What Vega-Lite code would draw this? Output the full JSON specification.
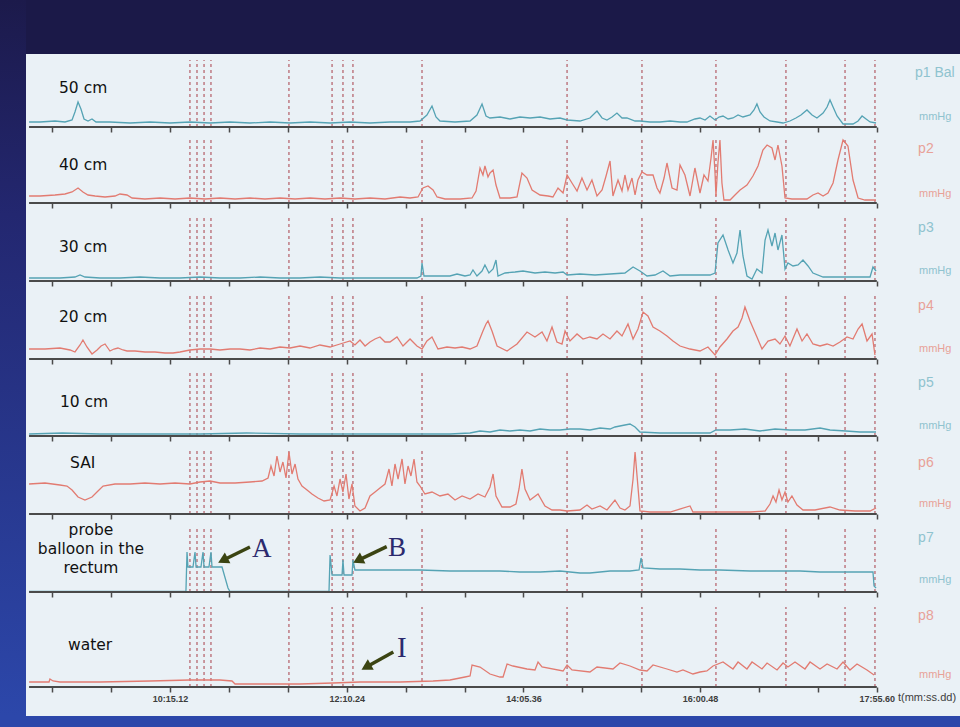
{
"$schema": "https://vega.github.io/schema/vega-lite/v6.json",
"background": "#2c47aa",
"padding": {"left": 0, "top": 0, "right": 0, "bottom": 11},
"spacing": 0,
"bounds": "flush",
"config": {"view": {"stroke": null, "fill": "#eaf1f6"}, "concat": {"spacing": 0}},
"resolve": {"scale": {"x": "independent", "y": "independent"}},
"datasets": {
"events": [{"t":628.1},{"t":632.7},{"t":637.3},{"t":641.8},{"t":692.6},{"t":720.7},{"t":727.8},{"t":734.3},{"t":779.3},{"t":873.8},{"t":922.6},{"t":970.8},{"t":1016.4},{"t":1054.9},{"t":1074.4}],
"p1": [{"t":523.3,"v":5},{"t":530.4,"v":5},{"t":540.2,"v":6},{"t":546.7,"v":5},{"t":551.3,"v":7},{"t":553.2,"v":15},{"t":555.2,"v":25},{"t":557.1,"v":18},{"t":559.1,"v":8},{"t":561.7,"v":6},{"t":564.3,"v":8},{"t":566.9,"v":5},{"t":576.0,"v":5},{"t":589.1,"v":4},{"t":602.1,"v":5},{"t":615.1,"v":4},{"t":628.1,"v":5},{"t":641.2,"v":4},{"t":654.2,"v":5},{"t":667.2,"v":4},{"t":680.3,"v":5},{"t":693.3,"v":4},{"t":706.3,"v":5},{"t":719.4,"v":4},{"t":732.4,"v":5},{"t":745.4,"v":4},{"t":758.4,"v":5},{"t":771.5,"v":5},{"t":778.0,"v":6},{"t":782.5,"v":12},{"t":785.8,"v":21},{"t":788.4,"v":10},{"t":791.0,"v":6},{"t":800.8,"v":5},{"t":810.6,"v":6},{"t":815.1,"v":12},{"t":818.4,"v":23},{"t":821.0,"v":11},{"t":823.6,"v":9},{"t":830.1,"v":10},{"t":836.6,"v":8},{"t":843.1,"v":10},{"t":849.7,"v":9},{"t":856.2,"v":10},{"t":862.7,"v":8},{"t":869.2,"v":9},{"t":873.8,"v":7},{"t":882.2,"v":6},{"t":888.7,"v":9},{"t":893.3,"v":16},{"t":896.6,"v":9},{"t":899.8,"v":7},{"t":903.1,"v":10},{"t":906.3,"v":14},{"t":909.6,"v":9},{"t":912.8,"v":9},{"t":918.1,"v":6},{"t":921.3,"v":6},{"t":927.8,"v":5},{"t":934.3,"v":5},{"t":940.9,"v":6},{"t":947.4,"v":5},{"t":951.9,"v":5},{"t":957.1,"v":8},{"t":960.4,"v":9},{"t":963.7,"v":7},{"t":966.9,"v":11},{"t":970.2,"v":7},{"t":972.8,"v":10},{"t":975.4,"v":11},{"t":978.7,"v":8},{"t":981.9,"v":9},{"t":985.2,"v":12},{"t":988.4,"v":10},{"t":993.0,"v":12},{"t":995.6,"v":17},{"t":997.5,"v":23},{"t":999.5,"v":15},{"t":1002.1,"v":10},{"t":1006.0,"v":6},{"t":1010.6,"v":5},{"t":1014.5,"v":4},{"t":1019.0,"v":6},{"t":1022.9,"v":9},{"t":1026.2,"v":12},{"t":1030.1,"v":17},{"t":1033.4,"v":12},{"t":1036.6,"v":9},{"t":1040.6,"v":14},{"t":1043.2,"v":20},{"t":1045.1,"v":27},{"t":1047.1,"v":20},{"t":1049.7,"v":11},{"t":1053.6,"v":3},{"t":1060.1,"v":3},{"t":1063.4,"v":6},{"t":1066.0,"v":11},{"t":1068.6,"v":8},{"t":1071.2,"v":5},{"t":1075.1,"v":4}],
"p2": [{"t":523.3,"v":7},{"t":530.4,"v":7},{"t":540.2,"v":8},{"t":546.7,"v":9},{"t":551.3,"v":11},{"t":555.2,"v":15},{"t":558.4,"v":11},{"t":561.7,"v":8},{"t":566.3,"v":7},{"t":572.8,"v":6},{"t":579.3,"v":7},{"t":582.5,"v":9},{"t":587.1,"v":8},{"t":590.4,"v":5},{"t":598.8,"v":4},{"t":608.6,"v":5},{"t":618.4,"v":4},{"t":628.1,"v":5},{"t":637.9,"v":4},{"t":647.7,"v":5},{"t":657.5,"v":4},{"t":667.2,"v":5},{"t":677.0,"v":4},{"t":686.8,"v":5},{"t":696.6,"v":4},{"t":706.3,"v":5},{"t":716.1,"v":4},{"t":725.9,"v":5},{"t":735.6,"v":4},{"t":745.4,"v":5},{"t":755.2,"v":4},{"t":765.0,"v":6},{"t":771.5,"v":5},{"t":776.7,"v":6},{"t":779.9,"v":15},{"t":783.2,"v":17},{"t":786.5,"v":13},{"t":789.1,"v":6},{"t":794.3,"v":4},{"t":804.1,"v":4},{"t":811.9,"v":5},{"t":814.5,"v":12},{"t":817.1,"v":35},{"t":819.0,"v":28},{"t":820.3,"v":37},{"t":822.3,"v":26},{"t":823.6,"v":30},{"t":825.6,"v":33},{"t":827.5,"v":18},{"t":830.1,"v":5},{"t":836.6,"v":5},{"t":841.2,"v":6},{"t":844.4,"v":30},{"t":847.7,"v":25},{"t":851.0,"v":13},{"t":856.2,"v":8},{"t":861.4,"v":7},{"t":864.6,"v":6},{"t":867.9,"v":15},{"t":871.2,"v":10},{"t":873.8,"v":28},{"t":877.0,"v":20},{"t":880.3,"v":12},{"t":883.5,"v":25},{"t":886.8,"v":13},{"t":890.0,"v":23},{"t":893.3,"v":7},{"t":896.6,"v":13},{"t":899.2,"v":27},{"t":901.8,"v":42},{"t":903.7,"v":7},{"t":907.0,"v":23},{"t":909.6,"v":12},{"t":911.5,"v":28},{"t":913.5,"v":13},{"t":916.1,"v":25},{"t":918.1,"v":8},{"t":920.0,"v":23},{"t":922.6,"v":31},{"t":925.9,"v":28},{"t":929.8,"v":28},{"t":932.4,"v":15},{"t":934.3,"v":10},{"t":937.0,"v":25},{"t":938.9,"v":40},{"t":942.2,"v":15},{"t":945.4,"v":13},{"t":947.4,"v":38},{"t":950.6,"v":28},{"t":953.9,"v":7},{"t":957.1,"v":35},{"t":960.4,"v":10},{"t":963.0,"v":28},{"t":965.6,"v":22},{"t":967.6,"v":45},{"t":968.9,"v":63},{"t":970.2,"v":30},{"t":970.8,"v":7},{"t":972.1,"v":40},{"t":973.4,"v":63},{"t":974.7,"v":20},{"t":976.0,"v":3},{"t":980.0,"v":3},{"t":983.2,"v":8},{"t":986.5,"v":13},{"t":991.0,"v":18},{"t":994.9,"v":27},{"t":998.2,"v":37},{"t":1001.4,"v":53},{"t":1004.1,"v":58},{"t":1007.3,"v":55},{"t":1009.3,"v":43},{"t":1011.2,"v":58},{"t":1013.8,"v":37},{"t":1015.8,"v":5},{"t":1020.3,"v":4},{"t":1025.6,"v":4},{"t":1030.1,"v":4},{"t":1034.0,"v":8},{"t":1037.3,"v":10},{"t":1040.6,"v":7},{"t":1043.8,"v":10},{"t":1047.1,"v":20},{"t":1050.3,"v":43},{"t":1053.6,"v":63},{"t":1056.8,"v":57},{"t":1060.1,"v":23},{"t":1063.4,"v":5},{"t":1067.9,"v":3},{"t":1075.1,"v":3}],
"p3": [{"t":523.3,"v":3},{"t":533.7,"v":3},{"t":543.4,"v":3},{"t":553.2,"v":4},{"t":556.5,"v":6},{"t":559.7,"v":4},{"t":569.5,"v":3},{"t":582.5,"v":3},{"t":595.6,"v":4},{"t":608.6,"v":3},{"t":621.6,"v":3},{"t":634.7,"v":4},{"t":647.7,"v":3},{"t":660.7,"v":3},{"t":673.8,"v":4},{"t":686.8,"v":3},{"t":699.8,"v":3},{"t":712.8,"v":4},{"t":725.9,"v":3},{"t":738.9,"v":3},{"t":751.9,"v":3},{"t":765.0,"v":3},{"t":776.0,"v":3},{"t":778.6,"v":5},{"t":779.3,"v":18},{"t":780.6,"v":5},{"t":787.8,"v":5},{"t":797.5,"v":5},{"t":802.1,"v":7},{"t":807.3,"v":5},{"t":810.6,"v":6},{"t":812.5,"v":11},{"t":815.1,"v":5},{"t":818.4,"v":10},{"t":820.3,"v":16},{"t":822.9,"v":8},{"t":825.6,"v":12},{"t":827.5,"v":21},{"t":828.8,"v":5},{"t":833.4,"v":8},{"t":839.9,"v":9},{"t":845.1,"v":10},{"t":852.9,"v":8},{"t":859.4,"v":9},{"t":866.0,"v":8},{"t":871.2,"v":9},{"t":873.8,"v":6},{"t":882.2,"v":7},{"t":892.0,"v":6},{"t":901.8,"v":7},{"t":911.5,"v":8},{"t":916.8,"v":14},{"t":921.3,"v":10},{"t":925.9,"v":5},{"t":931.1,"v":6},{"t":936.3,"v":10},{"t":940.9,"v":5},{"t":947.4,"v":6},{"t":957.1,"v":6},{"t":966.9,"v":6},{"t":970.2,"v":8},{"t":972.1,"v":38},{"t":975.4,"v":46},{"t":978.7,"v":31},{"t":981.9,"v":18},{"t":984.5,"v":28},{"t":986.5,"v":51},{"t":988.4,"v":25},{"t":991.0,"v":5},{"t":994.3,"v":2},{"t":997.5,"v":12},{"t":1000.8,"v":8},{"t":1002.8,"v":41},{"t":1004.7,"v":51},{"t":1007.3,"v":35},{"t":1009.3,"v":48},{"t":1011.2,"v":31},{"t":1013.8,"v":46},{"t":1015.8,"v":12},{"t":1017.7,"v":18},{"t":1021.0,"v":15},{"t":1024.3,"v":16},{"t":1027.5,"v":21},{"t":1030.8,"v":15},{"t":1034.0,"v":8},{"t":1040.6,"v":4},{"t":1051.6,"v":4},{"t":1061.4,"v":4},{"t":1071.2,"v":4},{"t":1073.1,"v":14},{"t":1075.1,"v":10}],
"p4": [{"t":523.3,"v":10},{"t":533.7,"v":10},{"t":543.4,"v":11},{"t":550.0,"v":9},{"t":553.2,"v":7},{"t":556.5,"v":14},{"t":558.4,"v":19},{"t":561.0,"v":12},{"t":564.3,"v":5},{"t":567.6,"v":9},{"t":570.2,"v":13},{"t":572.8,"v":15},{"t":576.0,"v":8},{"t":578.6,"v":10},{"t":581.2,"v":11},{"t":584.5,"v":9},{"t":587.1,"v":8},{"t":592.3,"v":8},{"t":598.8,"v":7},{"t":605.3,"v":7},{"t":611.9,"v":6},{"t":617.1,"v":6},{"t":621.6,"v":7},{"t":628.1,"v":9},{"t":634.7,"v":10},{"t":641.2,"v":10},{"t":647.7,"v":9},{"t":654.2,"v":10},{"t":660.7,"v":10},{"t":667.2,"v":9},{"t":673.8,"v":11},{"t":680.3,"v":10},{"t":686.8,"v":12},{"t":693.3,"v":11},{"t":699.8,"v":13},{"t":706.3,"v":11},{"t":712.8,"v":14},{"t":719.4,"v":12},{"t":725.9,"v":15},{"t":732.4,"v":18},{"t":735.6,"v":14},{"t":738.9,"v":19},{"t":742.2,"v":13},{"t":745.4,"v":17},{"t":748.7,"v":20},{"t":751.9,"v":22},{"t":755.2,"v":17},{"t":758.4,"v":17},{"t":763.0,"v":22},{"t":766.9,"v":13},{"t":771.5,"v":20},{"t":776.0,"v":13},{"t":779.3,"v":10},{"t":782.5,"v":18},{"t":785.8,"v":22},{"t":789.7,"v":10},{"t":795.6,"v":12},{"t":800.8,"v":11},{"t":805.4,"v":12},{"t":810.6,"v":10},{"t":815.1,"v":13},{"t":819.0,"v":28},{"t":821.0,"v":35},{"t":822.3,"v":38},{"t":824.9,"v":28},{"t":828.2,"v":13},{"t":834.7,"v":8},{"t":841.2,"v":15},{"t":847.7,"v":27},{"t":852.9,"v":22},{"t":857.5,"v":27},{"t":860.7,"v":18},{"t":864.0,"v":32},{"t":867.2,"v":17},{"t":870.5,"v":15},{"t":872.5,"v":28},{"t":875.7,"v":18},{"t":880.3,"v":25},{"t":884.2,"v":20},{"t":888.7,"v":22},{"t":893.3,"v":20},{"t":897.2,"v":25},{"t":901.8,"v":20},{"t":906.3,"v":28},{"t":909.6,"v":23},{"t":913.5,"v":35},{"t":916.8,"v":20},{"t":920.0,"v":30},{"t":923.3,"v":47},{"t":926.5,"v":43},{"t":929.8,"v":32},{"t":934.3,"v":28},{"t":938.9,"v":23},{"t":942.8,"v":18},{"t":947.4,"v":13},{"t":953.9,"v":10},{"t":960.4,"v":8},{"t":965.6,"v":12},{"t":970.2,"v":4},{"t":973.4,"v":12},{"t":978.0,"v":20},{"t":981.9,"v":28},{"t":985.2,"v":32},{"t":987.8,"v":41},{"t":989.7,"v":52},{"t":993.0,"v":38},{"t":997.5,"v":22},{"t":1000.8,"v":10},{"t":1004.7,"v":18},{"t":1009.3,"v":20},{"t":1012.5,"v":15},{"t":1015.8,"v":23},{"t":1019.0,"v":13},{"t":1023.6,"v":30},{"t":1026.9,"v":18},{"t":1030.1,"v":25},{"t":1034.0,"v":15},{"t":1038.6,"v":13},{"t":1043.2,"v":15},{"t":1047.1,"v":13},{"t":1051.6,"v":17},{"t":1056.2,"v":22},{"t":1060.1,"v":20},{"t":1063.4,"v":30},{"t":1066.0,"v":35},{"t":1069.2,"v":18},{"t":1072.5,"v":25},{"t":1074.4,"v":4}],
"p5": [{"t":523.3,"v":2},{"t":545.0,"v":3},{"t":569.5,"v":2},{"t":600.0,"v":2},{"t":634.7,"v":2},{"t":665.0,"v":3},{"t":699.8,"v":2},{"t":730.0,"v":2},{"t":765.0,"v":2},{"t":797.5,"v":2},{"t":810.6,"v":3},{"t":817.1,"v":5},{"t":823.6,"v":4},{"t":830.1,"v":6},{"t":836.6,"v":5},{"t":843.1,"v":6},{"t":849.7,"v":5},{"t":856.2,"v":7},{"t":862.7,"v":6},{"t":869.2,"v":6},{"t":875.7,"v":7},{"t":882.2,"v":7},{"t":888.7,"v":6},{"t":895.3,"v":8},{"t":901.8,"v":7},{"t":905.0,"v":9},{"t":911.5,"v":11},{"t":914.8,"v":12},{"t":918.1,"v":9},{"t":921.3,"v":4},{"t":934.3,"v":3},{"t":953.9,"v":3},{"t":966.9,"v":3},{"t":970.8,"v":6},{"t":980.0,"v":6},{"t":989.7,"v":7},{"t":999.5,"v":5},{"t":1009.3,"v":7},{"t":1019.0,"v":6},{"t":1028.8,"v":6},{"t":1038.6,"v":8},{"t":1045.1,"v":6},{"t":1055.5,"v":5},{"t":1064.6,"v":4},{"t":1075.1,"v":4}],
"p6": [{"t":523.3,"v":30},{"t":533.7,"v":31},{"t":543.4,"v":29},{"t":548.0,"v":28},{"t":551.3,"v":24},{"t":555.2,"v":17},{"t":559.7,"v":14},{"t":564.3,"v":17},{"t":568.2,"v":23},{"t":571.5,"v":28},{"t":579.3,"v":30},{"t":589.1,"v":30},{"t":598.8,"v":31},{"t":608.6,"v":30},{"t":618.4,"v":31},{"t":628.1,"v":30},{"t":634.7,"v":32},{"t":641.2,"v":33},{"t":647.7,"v":31},{"t":657.5,"v":31},{"t":667.2,"v":32},{"t":675.1,"v":33},{"t":679.0,"v":36},{"t":680.9,"v":48},{"t":682.9,"v":38},{"t":684.8,"v":58},{"t":686.8,"v":42},{"t":688.7,"v":52},{"t":690.7,"v":36},{"t":692.6,"v":62},{"t":694.6,"v":40},{"t":696.6,"v":50},{"t":698.5,"v":35},{"t":701.1,"v":28},{"t":704.4,"v":24},{"t":707.6,"v":20},{"t":711.5,"v":16},{"t":715.5,"v":13},{"t":719.4,"v":14},{"t":722.0,"v":28},{"t":723.9,"v":18},{"t":725.9,"v":35},{"t":727.8,"v":22},{"t":729.8,"v":40},{"t":731.7,"v":15},{"t":733.7,"v":30},{"t":735.6,"v":8},{"t":738.9,"v":3},{"t":742.2,"v":6},{"t":745.4,"v":18},{"t":748.7,"v":22},{"t":751.9,"v":26},{"t":755.2,"v":30},{"t":757.8,"v":45},{"t":759.7,"v":28},{"t":761.7,"v":50},{"t":763.7,"v":35},{"t":766.3,"v":55},{"t":768.2,"v":30},{"t":770.2,"v":48},{"t":772.1,"v":38},{"t":774.1,"v":55},{"t":776.0,"v":32},{"t":778.0,"v":28},{"t":781.2,"v":20},{"t":785.8,"v":22},{"t":791.0,"v":18},{"t":796.2,"v":20},{"t":800.8,"v":14},{"t":805.4,"v":18},{"t":810.6,"v":15},{"t":815.8,"v":20},{"t":820.3,"v":17},{"t":823.6,"v":27},{"t":825.6,"v":40},{"t":827.5,"v":18},{"t":831.4,"v":7},{"t":836.6,"v":7},{"t":840.5,"v":10},{"t":842.5,"v":25},{"t":844.4,"v":45},{"t":846.4,"v":25},{"t":849.7,"v":14},{"t":854.9,"v":20},{"t":859.4,"v":8},{"t":864.0,"v":4},{"t":869.2,"v":4},{"t":873.8,"v":3},{"t":882.2,"v":4},{"t":886.8,"v":9},{"t":890.0,"v":5},{"t":895.3,"v":8},{"t":899.8,"v":4},{"t":905.0,"v":14},{"t":908.3,"v":6},{"t":911.5,"v":4},{"t":914.8,"v":8},{"t":916.8,"v":35},{"t":918.1,"v":62},{"t":919.4,"v":38},{"t":921.3,"v":3},{"t":927.8,"v":2},{"t":940.9,"v":2},{"t":953.9,"v":8},{"t":955.8,"v":2},{"t":966.9,"v":2},{"t":980.0,"v":2},{"t":993.0,"v":2},{"t":1002.8,"v":3},{"t":1006.0,"v":10},{"t":1008.0,"v":18},{"t":1009.9,"v":12},{"t":1011.9,"v":24},{"t":1013.8,"v":14},{"t":1015.8,"v":22},{"t":1017.7,"v":12},{"t":1020.3,"v":18},{"t":1023.6,"v":9},{"t":1027.5,"v":4},{"t":1035.3,"v":4},{"t":1045.1,"v":7},{"t":1051.6,"v":4},{"t":1061.4,"v":3},{"t":1071.2,"v":3},{"t":1075.1,"v":6}],
"p7": [{"t":523.3,"v":0.5},{"t":569.5,"v":0.5},{"t":625.5,"v":0.5},{"t":626.2,"v":40},{"t":626.8,"v":25},{"t":630.1,"v":25},{"t":631.4,"v":40},{"t":632.1,"v":25},{"t":635.3,"v":25},{"t":636.6,"v":40},{"t":637.3,"v":25},{"t":640.5,"v":25},{"t":641.8,"v":40},{"t":642.5,"v":25},{"t":649.0,"v":25},{"t":652.9,"v":4},{"t":654.2,"v":0.5},{"t":718.7,"v":0.5},{"t":719.4,"v":37},{"t":720.7,"v":17},{"t":727.2,"v":17},{"t":727.8,"v":32},{"t":728.5,"v":17},{"t":733.7,"v":17},{"t":734.3,"v":32},{"t":735.6,"v":22},{"t":765.0,"v":22},{"t":778.0,"v":22},{"t":797.5,"v":21},{"t":817.1,"v":21},{"t":830.1,"v":21},{"t":843.1,"v":20},{"t":856.2,"v":20},{"t":869.2,"v":21},{"t":882.2,"v":19},{"t":888.7,"v":19},{"t":895.3,"v":20},{"t":901.8,"v":21},{"t":914.8,"v":21},{"t":920.7,"v":22},{"t":922.0,"v":34},{"t":923.3,"v":24},{"t":934.3,"v":23},{"t":947.4,"v":23},{"t":960.4,"v":22},{"t":973.4,"v":22},{"t":993.0,"v":21},{"t":1012.5,"v":21},{"t":1025.6,"v":21},{"t":1038.6,"v":20},{"t":1058.1,"v":20},{"t":1073.1,"v":20},{"t":1073.8,"v":6},{"t":1075.1,"v":4}],
"p8": [{"t":523.3,"v":5},{"t":533.7,"v":5},{"t":536.3,"v":5},{"t":536.9,"v":8},{"t":538.9,"v":6},{"t":543.4,"v":5},{"t":569.5,"v":5},{"t":602.1,"v":6},{"t":628.1,"v":7},{"t":647.7,"v":7},{"t":655.5,"v":6},{"t":657.5,"v":3},{"t":673.8,"v":3},{"t":699.8,"v":3},{"t":721.3,"v":4},{"t":738.9,"v":5},{"t":765.0,"v":5},{"t":786.5,"v":6},{"t":797.5,"v":7},{"t":807.3,"v":10},{"t":810.6,"v":11},{"t":811.9,"v":22},{"t":817.1,"v":20},{"t":823.6,"v":13},{"t":830.1,"v":10},{"t":832.1,"v":10},{"t":834.7,"v":23},{"t":838.6,"v":21},{"t":847.7,"v":18},{"t":852.9,"v":17},{"t":854.9,"v":25},{"t":857.5,"v":20},{"t":871.2,"v":16},{"t":873.8,"v":22},{"t":877.0,"v":17},{"t":888.7,"v":15},{"t":893.3,"v":20},{"t":903.7,"v":18},{"t":908.3,"v":24},{"t":914.8,"v":21},{"t":921.3,"v":17},{"t":925.9,"v":16},{"t":929.8,"v":22},{"t":938.9,"v":18},{"t":945.4,"v":15},{"t":949.3,"v":17},{"t":955.8,"v":13},{"t":960.4,"v":15},{"t":964.9,"v":16},{"t":968.9,"v":21},{"t":975.4,"v":25},{"t":981.9,"v":18},{"t":985.2,"v":25},{"t":991.0,"v":18},{"t":994.3,"v":25},{"t":1000.8,"v":18},{"t":1004.1,"v":24},{"t":1010.6,"v":17},{"t":1014.5,"v":24},{"t":1017.7,"v":20},{"t":1022.3,"v":25},{"t":1028.8,"v":18},{"t":1032.1,"v":25},{"t":1038.6,"v":18},{"t":1043.2,"v":23},{"t":1049.7,"v":18},{"t":1053.6,"v":25},{"t":1058.1,"v":17},{"t":1062.7,"v":23},{"t":1069.2,"v":17},{"t":1073.8,"v":12}],
"notes7": [{"label":"A","t":668.5,"v":35,"tt":667.2,"tv":45,"ht":650.6,"hv":32.5},{"label":"B","t":757.1,"v":36,"tt":756.3,"tv":45.3,"ht":738.6,"hv":32.4}],
"notes8": [{"label":"I","t":763.0,"v":29.7,"tt":760.6,"tv":35,"ht":743.9,"hv":20.8}]
},
"hconcat": [
{"width": 26, "height": 716, "view": {"fill": null, "stroke": null}, "data": {"values": [{}]}, "mark": {"type": "rect", "color": {"gradient": "linear", "x1": 0, "y1": 0, "x2": 0, "y2": 1, "stops": [{"offset": 0, "color": "#1c1a4b"}, {"offset": 0.3, "color": "#232770"}, {"offset": 1, "color": "#2c47aa"}]}}},
{"spacing": 0, "bounds": "flush", "resolve": {"scale": {"x": "independent", "y": "independent"}}, "vconcat": [
{"width": 934, "height": 54, "view": {"fill": "#1b1948", "stroke": null}, "data": {"values": [{}]}, "mark": {"type": "text", "text": ""}},
{"width": 934, "height": 79, "layer": [
 {"data": {"name": "events"}, "mark": {"type": "rule", "color": "#b35a64", "strokeDash": [3, 3], "strokeWidth": 1.4, "opacity": 0.85}, "encoding": {"x": {"field": "t", "type": "quantitative", "scale": {"domain": [521.3, 1129.8], "nice": false, "zero": false}, "axis": {"values": [538.373,576.746,615.12,653.493,691.867,730.24,768.613,806.987,845.36,883.733,922.107,960.48,998.853,1037.227,1075.6], "offset": -6, "labels": false, "domain": false, "ticks": true, "tickSize": 5, "tickWidth": 1.5, "tickColor": "#4a4a4a", "grid": false, "title": null}}, "y": {"datum": 0, "type": "quantitative", "scale": {"domain": [-6, 73], "nice": false, "zero": false}, "axis": null}, "y2": {"datum": 67}}},
 {"data": {"name": "p1"}, "mark": {"type": "line", "color": "#55a3b4", "strokeWidth": 1.3}, "encoding": {"x": {"field": "t", "type": "quantitative"}, "y": {"field": "v", "type": "quantitative", "axis": null}}},
 {"data": {"values": [{}]}, "mark": {"type": "rule", "color": "#4a4a4a", "strokeWidth": 2}, "encoding": {"x": {"datum": 523.3, "type": "quantitative"}, "x2": {"datum": 1075.6}, "y": {"datum": 0, "type": "quantitative", "axis": null}}},
 {"data": {"values": [{}]}, "mark": {"type": "text", "text": "50 cm", "font": "DejaVu Sans", "fontSize": 15.5, "align": "left", "baseline": "alphabetic", "color": "#111111"}, "encoding": {"x": {"datum": 542.8, "type": "quantitative"}, "y": {"datum": 34, "type": "quantitative", "axis": null}}},
 {"data": {"values": [{}]}, "mark": {"type": "text", "text": "p1 Bal", "font": "Liberation Sans", "fontSize": 14, "align": "left", "baseline": "alphabetic", "color": "#8fc3cf"}, "encoding": {"x": {"datum": 1100.5, "type": "quantitative"}, "y": {"datum": 50, "type": "quantitative", "axis": null}}},
 {"data": {"values": [{}]}, "mark": {"type": "text", "text": "mmHg", "font": "Liberation Sans", "fontSize": 11, "align": "left", "baseline": "alphabetic", "color": "#8fc3cf"}, "encoding": {"x": {"datum": 1103.1, "type": "quantitative"}, "y": {"datum": 7, "type": "quantitative", "axis": null}}}
]},
{"width": 934, "height": 76, "layer": [
 {"data": {"name": "events"}, "mark": {"type": "rule", "color": "#b35a64", "strokeDash": [3, 3], "strokeWidth": 1.4, "opacity": 0.85}, "encoding": {"x": {"field": "t", "type": "quantitative", "scale": {"domain": [521.3, 1129.8], "nice": false, "zero": false}, "axis": {"values": [538.373,576.746,615.12,653.493,691.867,730.24,768.613,806.987,845.36,883.733,922.107,960.48,998.853,1037.227,1075.6], "offset": -6, "labels": false, "domain": false, "ticks": true, "tickSize": 5, "tickWidth": 1.5, "tickColor": "#4a4a4a", "grid": false, "title": null}}, "y": {"datum": 0, "type": "quantitative", "scale": {"domain": [-6, 70], "nice": false, "zero": false}, "axis": null}, "y2": {"datum": 64}}},
 {"data": {"name": "p2"}, "mark": {"type": "line", "color": "#e27b71", "strokeWidth": 1.3}, "encoding": {"x": {"field": "t", "type": "quantitative"}, "y": {"field": "v", "type": "quantitative", "axis": null}}},
 {"data": {"values": [{}]}, "mark": {"type": "rule", "color": "#4a4a4a", "strokeWidth": 2}, "encoding": {"x": {"datum": 523.3, "type": "quantitative"}, "x2": {"datum": 1075.6}, "y": {"datum": 0, "type": "quantitative", "axis": null}}},
 {"data": {"values": [{}]}, "mark": {"type": "text", "text": "40 cm", "font": "DejaVu Sans", "fontSize": 15.5, "align": "left", "baseline": "alphabetic", "color": "#111111"}, "encoding": {"x": {"datum": 542.8, "type": "quantitative"}, "y": {"datum": 33, "type": "quantitative", "axis": null}}},
 {"data": {"values": [{}]}, "mark": {"type": "text", "text": "p2", "font": "Liberation Sans", "fontSize": 14, "align": "left", "baseline": "alphabetic", "color": "#e8a198"}, "encoding": {"x": {"datum": 1102.5, "type": "quantitative"}, "y": {"datum": 50, "type": "quantitative", "axis": null}}},
 {"data": {"values": [{}]}, "mark": {"type": "text", "text": "mmHg", "font": "Liberation Sans", "fontSize": 11, "align": "left", "baseline": "alphabetic", "color": "#e8a198"}, "encoding": {"x": {"datum": 1103.1, "type": "quantitative"}, "y": {"datum": 6, "type": "quantitative", "axis": null}}}
]},
{"width": 934, "height": 78, "layer": [
 {"data": {"name": "events"}, "mark": {"type": "rule", "color": "#b35a64", "strokeDash": [3, 3], "strokeWidth": 1.4, "opacity": 0.85}, "encoding": {"x": {"field": "t", "type": "quantitative", "scale": {"domain": [521.3, 1129.8], "nice": false, "zero": false}, "axis": {"values": [538.373,576.746,615.12,653.493,691.867,730.24,768.613,806.987,845.36,883.733,922.107,960.48,998.853,1037.227,1075.6], "offset": -6, "labels": false, "domain": false, "ticks": true, "tickSize": 5, "tickWidth": 1.5, "tickColor": "#4a4a4a", "grid": false, "title": null}}, "y": {"datum": 0, "type": "quantitative", "scale": {"domain": [-6, 72], "nice": false, "zero": false}, "axis": null}, "y2": {"datum": 66}}},
 {"data": {"name": "p3"}, "mark": {"type": "line", "color": "#55a3b4", "strokeWidth": 1.3}, "encoding": {"x": {"field": "t", "type": "quantitative"}, "y": {"field": "v", "type": "quantitative", "axis": null}}},
 {"data": {"values": [{}]}, "mark": {"type": "rule", "color": "#4a4a4a", "strokeWidth": 2}, "encoding": {"x": {"datum": 523.3, "type": "quantitative"}, "x2": {"datum": 1075.6}, "y": {"datum": 0, "type": "quantitative", "axis": null}}},
 {"data": {"values": [{}]}, "mark": {"type": "text", "text": "30 cm", "font": "DejaVu Sans", "fontSize": 15.5, "align": "left", "baseline": "alphabetic", "color": "#111111"}, "encoding": {"x": {"datum": 542.8, "type": "quantitative"}, "y": {"datum": 29, "type": "quantitative", "axis": null}}},
 {"data": {"values": [{}]}, "mark": {"type": "text", "text": "p3", "font": "Liberation Sans", "fontSize": 14, "align": "left", "baseline": "alphabetic", "color": "#8fc3cf"}, "encoding": {"x": {"datum": 1102.5, "type": "quantitative"}, "y": {"datum": 49, "type": "quantitative", "axis": null}}},
 {"data": {"values": [{}]}, "mark": {"type": "text", "text": "mmHg", "font": "Liberation Sans", "fontSize": 11, "align": "left", "baseline": "alphabetic", "color": "#8fc3cf"}, "encoding": {"x": {"datum": 1103.1, "type": "quantitative"}, "y": {"datum": 7, "type": "quantitative", "axis": null}}}
]},
{"width": 934, "height": 78, "layer": [
 {"data": {"name": "events"}, "mark": {"type": "rule", "color": "#b35a64", "strokeDash": [3, 3], "strokeWidth": 1.4, "opacity": 0.85}, "encoding": {"x": {"field": "t", "type": "quantitative", "scale": {"domain": [521.3, 1129.8], "nice": false, "zero": false}, "axis": {"values": [538.373,576.746,615.12,653.493,691.867,730.24,768.613,806.987,845.36,883.733,922.107,960.48,998.853,1037.227,1075.6], "offset": -6, "labels": false, "domain": false, "ticks": true, "tickSize": 5, "tickWidth": 1.5, "tickColor": "#4a4a4a", "grid": false, "title": null}}, "y": {"datum": 0, "type": "quantitative", "scale": {"domain": [-6, 72], "nice": false, "zero": false}, "axis": null}, "y2": {"datum": 66}}},
 {"data": {"name": "p4"}, "mark": {"type": "line", "color": "#e27b71", "strokeWidth": 1.3}, "encoding": {"x": {"field": "t", "type": "quantitative"}, "y": {"field": "v", "type": "quantitative", "axis": null}}},
 {"data": {"values": [{}]}, "mark": {"type": "rule", "color": "#4a4a4a", "strokeWidth": 2}, "encoding": {"x": {"datum": 523.3, "type": "quantitative"}, "x2": {"datum": 1075.6}, "y": {"datum": 0, "type": "quantitative", "axis": null}}},
 {"data": {"values": [{}]}, "mark": {"type": "text", "text": "20 cm", "font": "DejaVu Sans", "fontSize": 15.5, "align": "left", "baseline": "alphabetic", "color": "#111111"}, "encoding": {"x": {"datum": 542.8, "type": "quantitative"}, "y": {"datum": 37, "type": "quantitative", "axis": null}}},
 {"data": {"values": [{}]}, "mark": {"type": "text", "text": "p4", "font": "Liberation Sans", "fontSize": 14, "align": "left", "baseline": "alphabetic", "color": "#e8a198"}, "encoding": {"x": {"datum": 1102.5, "type": "quantitative"}, "y": {"datum": 49, "type": "quantitative", "axis": null}}},
 {"data": {"values": [{}]}, "mark": {"type": "text", "text": "mmHg", "font": "Liberation Sans", "fontSize": 11, "align": "left", "baseline": "alphabetic", "color": "#e8a198"}, "encoding": {"x": {"datum": 1103.1, "type": "quantitative"}, "y": {"datum": 7, "type": "quantitative", "axis": null}}}
]},
{"width": 934, "height": 77, "layer": [
 {"data": {"name": "events"}, "mark": {"type": "rule", "color": "#b35a64", "strokeDash": [3, 3], "strokeWidth": 1.4, "opacity": 0.85}, "encoding": {"x": {"field": "t", "type": "quantitative", "scale": {"domain": [521.3, 1129.8], "nice": false, "zero": false}, "axis": {"values": [538.373,576.746,615.12,653.493,691.867,730.24,768.613,806.987,845.36,883.733,922.107,960.48,998.853,1037.227,1075.6], "offset": -6, "labels": false, "domain": false, "ticks": true, "tickSize": 5, "tickWidth": 1.5, "tickColor": "#4a4a4a", "grid": false, "title": null}}, "y": {"datum": 0, "type": "quantitative", "scale": {"domain": [-6, 71], "nice": false, "zero": false}, "axis": null}, "y2": {"datum": 65}}},
 {"data": {"name": "p5"}, "mark": {"type": "line", "color": "#55a3b4", "strokeWidth": 1.3}, "encoding": {"x": {"field": "t", "type": "quantitative"}, "y": {"field": "v", "type": "quantitative", "axis": null}}},
 {"data": {"values": [{}]}, "mark": {"type": "rule", "color": "#4a4a4a", "strokeWidth": 2}, "encoding": {"x": {"datum": 523.3, "type": "quantitative"}, "x2": {"datum": 1075.6}, "y": {"datum": 0, "type": "quantitative", "axis": null}}},
 {"data": {"values": [{}]}, "mark": {"type": "text", "text": "10 cm", "font": "DejaVu Sans", "fontSize": 15.5, "align": "left", "baseline": "alphabetic", "color": "#111111"}, "encoding": {"x": {"datum": 543.4, "type": "quantitative"}, "y": {"datum": 29, "type": "quantitative", "axis": null}}},
 {"data": {"values": [{}]}, "mark": {"type": "text", "text": "p5", "font": "Liberation Sans", "fontSize": 14, "align": "left", "baseline": "alphabetic", "color": "#8fc3cf"}, "encoding": {"x": {"datum": 1102.5, "type": "quantitative"}, "y": {"datum": 49, "type": "quantitative", "axis": null}}},
 {"data": {"values": [{}]}, "mark": {"type": "text", "text": "mmHg", "font": "Liberation Sans", "fontSize": 11, "align": "left", "baseline": "alphabetic", "color": "#8fc3cf"}, "encoding": {"x": {"datum": 1103.1, "type": "quantitative"}, "y": {"datum": 7, "type": "quantitative", "axis": null}}}
]},
{"width": 934, "height": 78, "layer": [
 {"data": {"name": "events"}, "mark": {"type": "rule", "color": "#b35a64", "strokeDash": [3, 3], "strokeWidth": 1.4, "opacity": 0.85}, "encoding": {"x": {"field": "t", "type": "quantitative", "scale": {"domain": [521.3, 1129.8], "nice": false, "zero": false}, "axis": {"values": [538.373,576.746,615.12,653.493,691.867,730.24,768.613,806.987,845.36,883.733,922.107,960.48,998.853,1037.227,1075.6], "offset": -6, "labels": false, "domain": false, "ticks": true, "tickSize": 5, "tickWidth": 1.5, "tickColor": "#4a4a4a", "grid": false, "title": null}}, "y": {"datum": 0, "type": "quantitative", "scale": {"domain": [-6, 72], "nice": false, "zero": false}, "axis": null}, "y2": {"datum": 66}}},
 {"data": {"name": "p6"}, "mark": {"type": "line", "color": "#e27b71", "strokeWidth": 1.3}, "encoding": {"x": {"field": "t", "type": "quantitative"}, "y": {"field": "v", "type": "quantitative", "axis": null}}},
 {"data": {"values": [{}]}, "mark": {"type": "rule", "color": "#4a4a4a", "strokeWidth": 2}, "encoding": {"x": {"datum": 523.3, "type": "quantitative"}, "x2": {"datum": 1075.6}, "y": {"datum": 0, "type": "quantitative", "axis": null}}},
 {"data": {"values": [{}]}, "mark": {"type": "text", "text": "SAI", "font": "DejaVu Sans", "fontSize": 15.5, "align": "left", "baseline": "alphabetic", "color": "#111111"}, "encoding": {"x": {"datum": 550.0, "type": "quantitative"}, "y": {"datum": 46, "type": "quantitative", "axis": null}}},
 {"data": {"values": [{}]}, "mark": {"type": "text", "text": "p6", "font": "Liberation Sans", "fontSize": 14, "align": "left", "baseline": "alphabetic", "color": "#e8a198"}, "encoding": {"x": {"datum": 1102.5, "type": "quantitative"}, "y": {"datum": 47, "type": "quantitative", "axis": null}}},
 {"data": {"values": [{}]}, "mark": {"type": "text", "text": "mmHg", "font": "Liberation Sans", "fontSize": 11, "align": "left", "baseline": "alphabetic", "color": "#e8a198"}, "encoding": {"x": {"datum": 1103.1, "type": "quantitative"}, "y": {"datum": 7, "type": "quantitative", "axis": null}}}
]},
{"width": 934, "height": 78, "layer": [
 {"data": {"name": "events"}, "mark": {"type": "rule", "color": "#b35a64", "strokeDash": [3, 3], "strokeWidth": 1.4, "opacity": 0.85}, "encoding": {"x": {"field": "t", "type": "quantitative", "scale": {"domain": [521.3, 1129.8], "nice": false, "zero": false}, "axis": {"values": [538.373,576.746,615.12,653.493,691.867,730.24,768.613,806.987,845.36,883.733,922.107,960.48,998.853,1037.227,1075.6], "offset": -6, "labels": false, "domain": false, "ticks": true, "tickSize": 5, "tickWidth": 1.5, "tickColor": "#4a4a4a", "grid": false, "title": null}}, "y": {"datum": 0, "type": "quantitative", "scale": {"domain": [-6, 72], "nice": false, "zero": false}, "axis": null}, "y2": {"datum": 66}}},
 {"data": {"name": "p7"}, "mark": {"type": "line", "color": "#55a3b4", "strokeWidth": 1.3}, "encoding": {"x": {"field": "t", "type": "quantitative"}, "y": {"field": "v", "type": "quantitative", "axis": null}}},
 {"data": {"values": [{}]}, "mark": {"type": "rule", "color": "#4a4a4a", "strokeWidth": 2}, "encoding": {"x": {"datum": 523.3, "type": "quantitative"}, "x2": {"datum": 1075.6}, "y": {"datum": 0, "type": "quantitative", "axis": null}}},
 {"data": {"values": [{}]}, "mark": {"type": "text", "text": ["probe", "balloon in the", "rectum"], "lineHeight": 19, "font": "DejaVu Sans", "fontSize": 15.5, "align": "center", "baseline": "alphabetic", "color": "#111111"}, "encoding": {"x": {"datum": 563.6, "type": "quantitative"}, "y": {"datum": 57, "type": "quantitative", "axis": null}}},
 {"data": {"values": [{}]}, "mark": {"type": "text", "text": "p7", "font": "Liberation Sans", "fontSize": 14, "align": "left", "baseline": "alphabetic", "color": "#8fc3cf"}, "encoding": {"x": {"datum": 1102.5, "type": "quantitative"}, "y": {"datum": 50, "type": "quantitative", "axis": null}}},
 {"data": {"values": [{}]}, "mark": {"type": "text", "text": "mmHg", "font": "Liberation Sans", "fontSize": 11, "align": "left", "baseline": "alphabetic", "color": "#8fc3cf"}, "encoding": {"x": {"datum": 1103.1, "type": "quantitative"}, "y": {"datum": 9, "type": "quantitative", "axis": null}}},
 {"data": {"name": "notes7"}, "mark": {"type": "rule", "color": "#3b4412", "strokeWidth": 3.5}, "encoding": {"x": {"field": "tt", "type": "quantitative"}, "y": {"field": "tv", "type": "quantitative", "axis": null}, "x2": {"field": "ht"}, "y2": {"field": "hv"}}},
 {"data": {"name": "notes7"}, "mark": {"type": "point", "shape": "triangle", "angle": 243, "size": 150, "filled": true, "opacity": 1, "color": "#3b4412"}, "encoding": {"x": {"field": "ht", "type": "quantitative"}, "y": {"field": "hv", "type": "quantitative", "axis": null}}},
 {"data": {"name": "notes7"}, "mark": {"type": "text", "font": "Liberation Serif", "fontSize": 27, "align": "left", "baseline": "alphabetic", "color": "#2b2a6e"}, "encoding": {"x": {"field": "t", "type": "quantitative"}, "y": {"field": "v", "type": "quantitative", "axis": null}, "text": {"field": "label"}}}
]},
{"width": 934, "height": 118, "layer": [
 {"data": {"name": "events"}, "mark": {"type": "rule", "color": "#b35a64", "strokeDash": [3, 3], "strokeWidth": 1.4, "opacity": 0.85}, "encoding": {"x": {"field": "t", "type": "quantitative", "scale": {"domain": [521.3, 1129.8], "nice": false, "zero": false}, "axis": {"values": [538.373,576.746,615.12,653.493,691.867,730.24,768.613,806.987,845.36,883.733,922.107,960.48,998.853,1037.227,1075.6], "offset": -29, "labels": true, "labelExpr": "indexof([615.12,730.24,845.36,960.48,1075.6], datum.value) >= 0 ? format(floor(datum.value/60),'02d') + ':' + format(datum.value % 60,'05.2f') : ''", "labelFont": "Liberation Sans", "labelFontSize": 9, "labelFontWeight": "bold", "labelColor": "#3d3d3d", "labelPadding": 2, "labelFlush": false, "labelOverlap": false, "domain": false, "ticks": true, "tickSize": 5, "tickWidth": 1.5, "tickColor": "#4a4a4a", "grid": false, "title": null}}, "y": {"datum": 0, "type": "quantitative", "scale": {"domain": [-29, 89], "nice": false, "zero": false}, "axis": null}, "y2": {"datum": 80}}},
 {"data": {"name": "p8"}, "mark": {"type": "line", "color": "#e27b71", "strokeWidth": 1.3}, "encoding": {"x": {"field": "t", "type": "quantitative"}, "y": {"field": "v", "type": "quantitative", "axis": null}}},
 {"data": {"values": [{}]}, "mark": {"type": "rule", "color": "#4a4a4a", "strokeWidth": 2}, "encoding": {"x": {"datum": 523.3, "type": "quantitative"}, "x2": {"datum": 1075.6}, "y": {"datum": 0, "type": "quantitative", "axis": null}}},
 {"data": {"values": [{}]}, "mark": {"type": "text", "text": "water", "font": "DejaVu Sans", "fontSize": 15.5, "align": "left", "baseline": "alphabetic", "color": "#111111"}, "encoding": {"x": {"datum": 548.7, "type": "quantitative"}, "y": {"datum": 36.7, "type": "quantitative", "axis": null}}},
 {"data": {"values": [{}]}, "mark": {"type": "text", "text": "p8", "font": "Liberation Sans", "fontSize": 14, "align": "left", "baseline": "alphabetic", "color": "#e8a198"}, "encoding": {"x": {"datum": 1102.5, "type": "quantitative"}, "y": {"datum": 67, "type": "quantitative", "axis": null}}},
 {"data": {"values": [{}]}, "mark": {"type": "text", "text": "mmHg", "font": "Liberation Sans", "fontSize": 11, "align": "left", "baseline": "alphabetic", "color": "#e8a198"}, "encoding": {"x": {"datum": 1103.1, "type": "quantitative"}, "y": {"datum": 9, "type": "quantitative", "axis": null}}},
 {"data": {"values": [{}]}, "mark": {"type": "text", "text": "t(mm:ss.dd)", "font": "Liberation Sans", "fontSize": 11, "align": "left", "baseline": "middle", "color": "#3d3d3d"}, "encoding": {"x": {"datum": 1089.4, "type": "quantitative"}, "y": {"datum": -11.3, "type": "quantitative", "axis": null}}},
 {"data": {"name": "notes8"}, "mark": {"type": "rule", "color": "#3b4412", "strokeWidth": 3.5}, "encoding": {"x": {"field": "tt", "type": "quantitative"}, "y": {"field": "tv", "type": "quantitative", "axis": null}, "x2": {"field": "ht"}, "y2": {"field": "hv"}}},
 {"data": {"name": "notes8"}, "mark": {"type": "point", "shape": "triangle", "angle": 241, "size": 150, "filled": true, "opacity": 1, "color": "#3b4412"}, "encoding": {"x": {"field": "ht", "type": "quantitative"}, "y": {"field": "hv", "type": "quantitative", "axis": null}}},
 {"data": {"name": "notes8"}, "mark": {"type": "text", "font": "Liberation Serif", "fontSize": 29, "align": "left", "baseline": "alphabetic", "color": "#2b2a6e"}, "encoding": {"x": {"field": "t", "type": "quantitative"}, "y": {"field": "v", "type": "quantitative", "axis": null}, "text": {"field": "label"}}}
]}
]}
]
}
